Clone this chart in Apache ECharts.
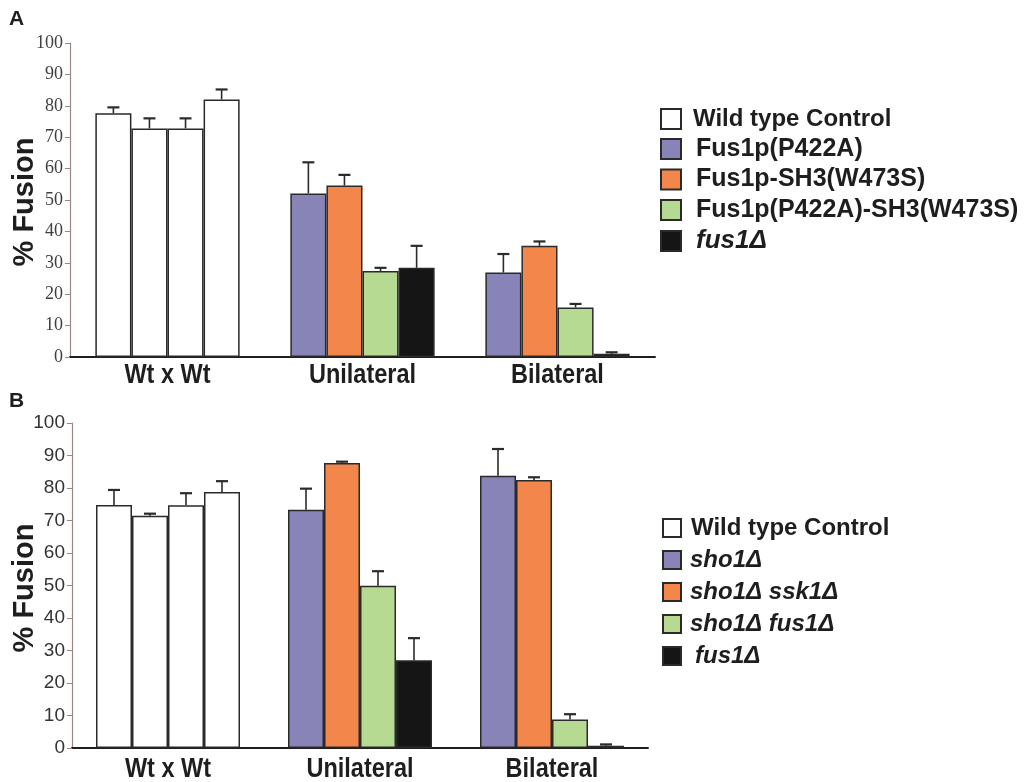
<!DOCTYPE html>
<html>
<head>
<meta charset="utf-8">
<script src="https://cdn.jsdelivr.net/npm/echarts@6/dist/echarts.min.js"></script>
<style>
  html, body { margin: 0; padding: 0; background: #fff; }
  #chart { width: 1033px; height: 782px; }
</style>
</head>
<body>
<div id="chart"></div>
<script>
// categories on the x axis of both panels
const categories = ['Wt x Wt', 'Unilateral', 'Bilateral']
const yTicks = [0, 100, 10] // min, max, interval

// panel A
const wtA = [77.6, 72.8, 72.8, 82.0]
const wtErrA = [1.9, 3.2, 3.2, 3.2]
const mutantNamesA = ['Fus1p(P422A)', 'Fus1p-SH3(W473S)', 'Fus1p(P422A)-SH3(W473S)', 'fus1Δ']
const uniA = [52.1, 54.6, 27.4, 28.4]
const uniErrA = [9.9, 3.4, 1.0, 7.0]
const biA = [26.9, 35.4, 15.8, 1.0]
const biErrA = [5.9, 1.4, 1.1, 0.5]

// panel B
const wtB = [74.8, 71.5, 74.7, 78.8]
const wtErrB = [4.6, 0.6, 3.7, 3.3]
const mutantNamesB = ['sho1Δ', 'sho1Δ ssk1Δ', 'sho1Δ fus1Δ', 'fus1Δ']
const uniB = [73.3, 87.7, 49.9, 27.0]
const uniErrB = [6.5, 0.4, 4.5, 6.8]
const biB = [83.8, 82.5, 8.8, 0.7]
const biErrB = [8.2, 0.8, 1.6, 0.4]

const wildName = 'Wild type Control'
const mutantColors = ['#8884b8', '#f3864a', '#b7da92', '#151515']
const edge = '#2a2a2a'
const sansBold = '"Liberation Sans", Arial, sans-serif'

function panelSeries(p, wt, wtErr, names, uni, uniErr, bi, biErr, gap, labelOffset) {
  const out = []
  for (let k = 0; k < 4; k++) {
    out.push({
      name: wildName,
      type: 'bar',
      xAxisIndex: p,
      yAxisIndex: p,
      stack: 'p' + p + 's' + k,
      barGap: '0%',
      barCategoryGap: (gap * 100) + '%',
      itemStyle: { color: '#ffffff', borderColor: edge, borderWidth: 1.5 },
      data: [wt[k], '-', '-']
    })
  }
  for (let k = 0; k < 4; k++) {
    out.push({
      name: names[k],
      type: 'bar',
      xAxisIndex: p,
      yAxisIndex: p,
      stack: 'p' + p + 's' + k,
      barGap: '0%',
      barCategoryGap: (gap * 100) + '%',
      itemStyle: { color: mutantColors[k], borderColor: edge, borderWidth: 1.5 },
      data: ['-', uni[k], bi[k]]
    })
  }
  // error bars: [category, slot, value, error]
  const errData = []
  for (let k = 0; k < 4; k++) {
    errData.push([0, k, wt[k], wtErr[k]])
    errData.push([1, k, uni[k], uniErr[k]])
    errData.push([2, k, bi[k], biErr[k]])
  }
  out.push({
    type: 'custom',
    xAxisIndex: p,
    yAxisIndex: p,
    z: 10,
    silent: true,
    encode: { x: 0, y: 2 },
    data: errData,
    renderItem: function (params, api) {
      const cat = api.value(0)
      const slot = api.value(1)
      const v = api.value(2)
      const e = api.value(3)
      const band = api.size([1, 0])[0]
      const barW = band * (1 - gap) / 4
      const x = api.coord([cat, 0])[0] - 2 * barW + barW * (slot + 0.5)
      const yBar = api.coord([cat, v])[1]
      const yTop = api.coord([cat, v + e])[1]
      return {
        type: 'group',
        children: [
          { type: 'line', shape: { x1: x, y1: yBar, x2: x, y2: yTop }, style: { stroke: '#2b2b2b', lineWidth: 1.6 } },
          { type: 'line', shape: { x1: x - 6, y1: yTop, x2: x + 6, y2: yTop }, style: { stroke: '#2b2b2b', lineWidth: 2.2 } }
        ]
      }
    }
  })
  // condensed category labels under the axis
  out.push({
    type: 'custom',
    xAxisIndex: p,
    yAxisIndex: p,
    silent: true,
    clip: false,
    encode: { x: 0, y: 1 },
    data: categories.map(function (c, i) { return [i, 0] }),
    renderItem: function (params, api) {
      const pt = api.coord([api.value(0), 0])
      return {
        type: 'text',
        x: pt[0],
        y: pt[1] + labelOffset,
        scaleX: 0.84,
        style: {
          text: categories[api.value(0)],
          fontFamily: sansBold,
          fontWeight: 'bold',
          fontSize: 28,
          fill: '#1e1e1e',
          align: 'center',
          verticalAlign: 'middle'
        }
      }
    }
  })
  return out
}

function legendData(names, wildStyle, nameStyles) {
  const d = [{ name: wildName, textStyle: wildStyle }]
  names.forEach(function (n, i) { d.push({ name: n, textStyle: nameStyles[i] }) })
  return d
}

const chart = echarts.init(document.getElementById('chart'))

const yAxisBase = {
  type: 'value',
  min: yTicks[0],
  max: yTicks[1],
  interval: yTicks[2],
  axisLine: { show: true, lineStyle: { color: '#9e8686', width: 1.2 } },
  axisTick: { show: true, length: 5, lineStyle: { color: '#9e8686' } },
  splitLine: { show: false }
}

function lt(size, italic, pad) {
  return {
    fontFamily: sansBold,
    fontWeight: 'bold',
    fontStyle: italic ? 'italic' : 'normal',
    fontSize: size,
    color: '#1e1e1e',
    padding: [0, 0, 0, pad]
  }
}
const wildA = lt(24, false, 7)
const plainA = lt(25, false, 10)
const italA = lt(26, true, 10)
const wildB = lt(24, false, 5)
const italB = lt(24, true, 4)
const italB2 = lt(24, true, 9)

chart.setOption({
  backgroundColor: '#ffffff',
  animation: false,
  grid: [
    { left: 70, top: 43, width: 585, height: 314 },
    { left: 72, top: 423, width: 576, height: 325 }
  ],
  xAxis: [0, 1].map(function (i) {
    return {
      type: 'category',
      gridIndex: i,
      data: categories,
      axisLine: { lineStyle: { color: '#1e1e1e', width: 2 } },
      axisTick: { show: false },
      axisLabel: { show: false }
    }
  }),
  yAxis: [
    Object.assign({
      gridIndex: 0,
      axisLabel: { margin: 7, fontFamily: '"Liberation Serif", "Times New Roman", serif', fontSize: 18, color: '#404040' }
    }, yAxisBase),
    Object.assign({
      gridIndex: 1,
      axisLabel: { margin: 7, fontFamily: '"Liberation Sans", Arial, sans-serif', fontSize: 19, color: '#333333' }
    }, yAxisBase)
  ],
  legend: [
    {
      orient: 'vertical',
      left: 660,
      top: 107,
      padding: 0,
      icon: 'rect',
      itemWidth: 20,
      itemHeight: 20,
      itemGap: 5.5,
      selectedMode: false,
      data: legendData(mutantNamesA, wildA, [plainA, plainA, plainA, italA])
    },
    {
      orient: 'vertical',
      left: 662,
      top: 516,
      padding: 0,
      icon: 'rect',
      itemWidth: 18,
      itemHeight: 18,
      itemGap: 8,
      selectedMode: false,
      data: legendData(mutantNamesB, wildB, [italB, italB, italB, italB2])
    }
  ],
  graphic: [
    { type: 'text', left: 9, top: 9, style: { text: 'A', fontFamily: sansBold, fontWeight: 'bold', fontSize: 21, fill: '#1e1e1e' } },
    { type: 'text', left: 9, top: 391, style: { text: 'B', fontFamily: sansBold, fontWeight: 'bold', fontSize: 21, fill: '#1e1e1e' } },
    { type: 'text', x: 25, y: 202, rotation: Math.PI / 2, style: { text: '% Fusion', fontFamily: sansBold, fontWeight: 'bold', fontSize: 29, fill: '#1e1e1e', align: 'center', verticalAlign: 'middle' } },
    { type: 'text', x: 25, y: 588, rotation: Math.PI / 2, style: { text: '% Fusion', fontFamily: sansBold, fontWeight: 'bold', fontSize: 29, fill: '#1e1e1e', align: 'center', verticalAlign: 'middle' } }
  ],
  series: panelSeries(0, wtA, wtErrA, mutantNamesA, uniA, uniErrA, biA, biErrA, 0.26, 18)
    .concat(panelSeries(1, wtB, wtErrB, mutantNamesB, uniB, uniErrB, biB, biErrB, 0.25, 21))
})
</script>
</body>
</html>
